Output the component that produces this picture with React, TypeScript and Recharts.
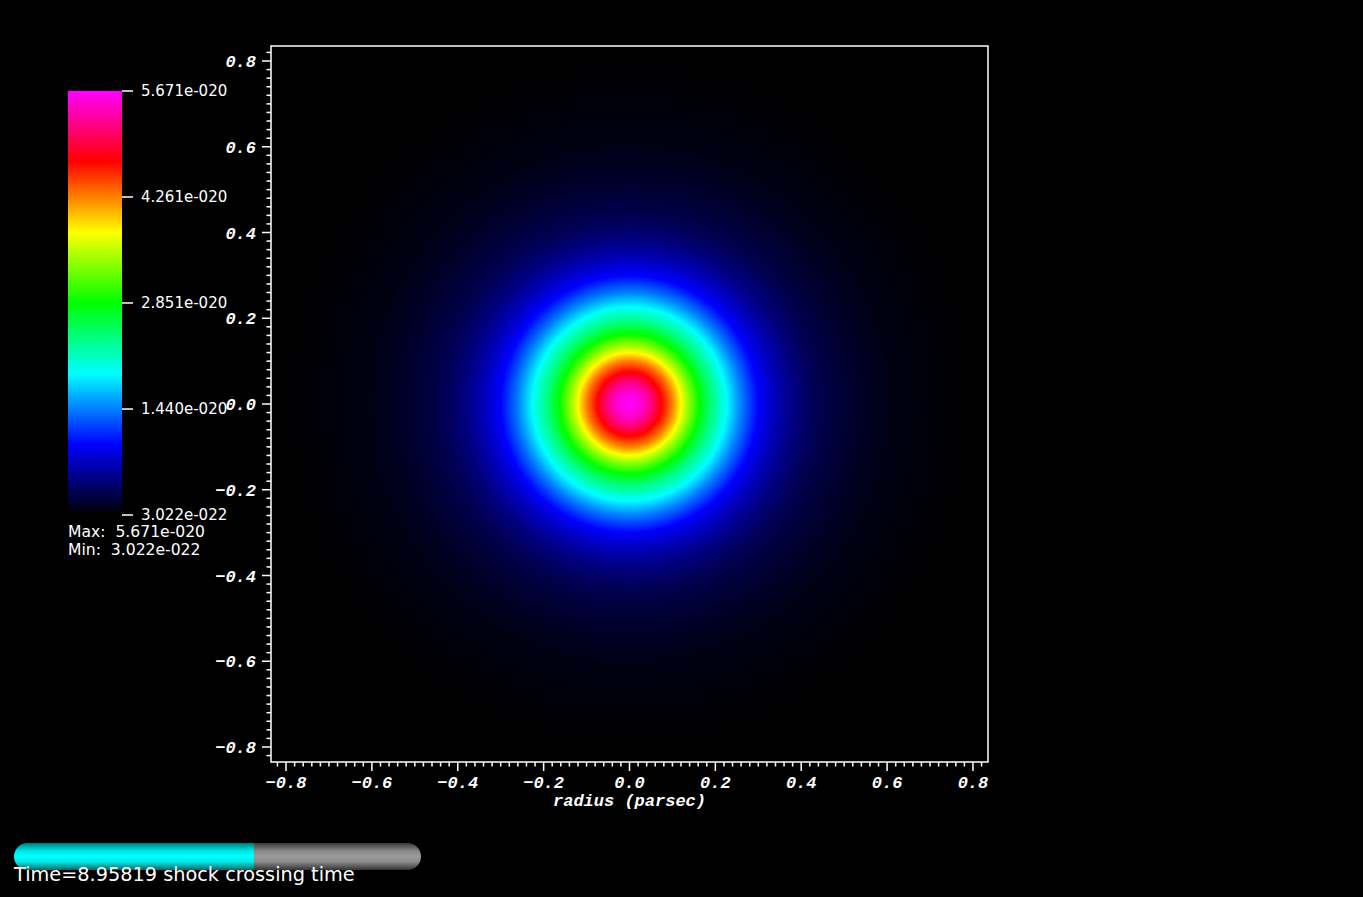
import React from 'react';
import { ScatterChart, Scatter, XAxis, YAxis, ReferenceArea, BarChart, Bar } from 'recharts';

// radial density profile of the cloud (radius in parsec, density in g/cm^3)
const RADIUS = [0, 0.03, 0.05, 0.075, 0.1, 0.12, 0.14, 0.163, 0.19, 0.226, 0.26, 0.3, 0.34, 0.38, 0.43, 0.49, 0.55, 0.61, 0.7, 0.8, 0.9];
const DENSITY = [
  5.671e-20, 5.5e-20, 5.22e-20, 4.73e-20, 4.26e-20, 3.79e-20, 3.33e-20, 2.85e-20, 2.4e-20, 1.91e-20, 1.44e-20,
  0.97e-20, 0.71e-20, 0.51e-20, 0.34e-20, 0.23e-20, 0.154e-20, 0.103e-20, 0.064e-20, 0.035e-20, 3.022e-22,
];

const D_MIN = 3.022e-22;
const D_MAX = 5.671e-20;
const COLORBAR_TICKS = [3.022e-22, 1.44e-20, 2.851e-20, 4.261e-20, 5.671e-20];
const AXIS_TICKS = [-0.8, -0.6, -0.4, -0.2, 0, 0.2, 0.4, 0.6, 0.8];
const DOMAIN: [number, number] = [-0.835, 0.835];

const TIME = '8.95819';
const TIME_UNITS = 'shock crossing time';
const TIME_PROGRESS = 0.59;

// black -> blue -> cyan -> green -> yellow -> red -> magenta
const CMAP = [
  [0, 0, 0],
  [0, 0, 255],
  [0, 255, 255],
  [0, 255, 0],
  [255, 255, 0],
  [255, 0, 0],
  [255, 0, 255],
];

function colorAt(t: number) {
  const c = Math.max(0, Math.min(1, t)) * (CMAP.length - 1);
  const i = Math.min(CMAP.length - 2, Math.floor(c));
  const f = c - i;
  const rgb = CMAP[i].map((v, k) => Math.round(v + (CMAP[i + 1][k] - v) * f));
  return `rgb(${rgb.join(',')})`;
}

const minorTicks: number[] = [];
for (let i = -41; i <= 41; i++) minorTicks.push(Math.round(i * 2) / 100);

const isMajor = (v: number) => AXIS_TICKS.some((t) => Math.abs(t - v) < 1e-6);
const fmtAxis = (v: number) => (Math.abs(v) < 1e-9 ? '0.0' : v.toFixed(1).replace('-', '\u2212'));
const fmtExp = (v: number) => {
  const [m, e] = v.toExponential(3).split('e');
  const sign = e[0] === '-' ? '-' : '+';
  return `${m}e${sign}${e.replace(/[-+]/, '').padStart(3, '0')}`;
};

const AXIS_FONT = {
  fontFamily: '"Liberation Mono", "DejaVu Sans Mono", monospace',
  fontWeight: 700,
  fontStyle: 'italic' as const,
  fontSize: 17,
};
const LABEL_FONT = '"DejaVu Sans", sans-serif';

const XTick = (props: any) => {
  const { x, y, payload } = props;
  const major = isMajor(payload.value);
  return (
    <g>
      <line x1={x} x2={x} y1={y} y2={y + (major ? 9 : 4.5)} stroke="#fff" strokeWidth={1.5} />
      {major && (
        <text x={x} y={y + 26} textAnchor="middle" fill="#fff" style={AXIS_FONT}>
          {fmtAxis(payload.value)}
        </text>
      )}
    </g>
  );
};

const YTick = (props: any) => {
  const { x, y, payload } = props;
  const major = isMajor(payload.value);
  return (
    <g>
      <line x1={x - (major ? 9 : 4.5)} x2={x} y1={y} y2={y} stroke="#fff" strokeWidth={1.5} />
      {major && (
        <text x={x - 15} y={y} dy="0.36em" textAnchor="end" fill="#fff" style={AXIS_FONT}>
          {fmtAxis(payload.value)}
        </text>
      )}
    </g>
  );
};

// density field drawn as a radial gradient from the profile
const Cloud = (props: any) => {
  const { x, y, width, height } = props;
  const w = Math.abs(width);
  const h = Math.abs(height);
  const rMax = RADIUS[RADIUS.length - 1];
  return (
    <g>
      <defs>
        <radialGradient id="cloud" cx="50%" cy="50%" r="50%">
          {RADIUS.map((r, i) => (
            <stop key={i} offset={r / rMax} stopColor={colorAt((DENSITY[i] - D_MIN) / (D_MAX - D_MIN))} />
          ))}
        </radialGradient>
      </defs>
      <rect x={Math.min(x, x + width)} y={Math.min(y, y + height)} width={w} height={h} fill="#000" />
      <ellipse
        cx={Math.min(x, x + width) + w / 2}
        cy={Math.min(y, y + height) + h / 2}
        rx={w / 2}
        ry={h / 2}
        fill="url(#cloud)"
      />
    </g>
  );
};

const ColorBarShape = (props: any) => {
  const { x, y, width, height } = props;
  return (
    <g>
      <defs>
        <linearGradient id="cbar" x1="0" y1="1" x2="0" y2="0">
          {CMAP.map((c, i) => (
            <stop key={i} offset={i / (CMAP.length - 1)} stopColor={`rgb(${c.join(',')})`} />
          ))}
        </linearGradient>
      </defs>
      <rect x={x} y={y} width={width} height={height} fill="url(#cbar)" />
    </g>
  );
};

const colorbarData = [{ name: 'density', range: [D_MIN, D_MAX] }];

export default function App() {
  const rMax = RADIUS[RADIUS.length - 1];
  return (
    <div style={{ position: 'absolute', left: 0, top: 0, width: 1363, height: 897, background: '#000', overflow: 'hidden' }}>
      <div style={{ position: 'absolute', left: 0, top: 0 }}>
        <ScatterChart width={1363} height={897} margin={{ top: 46, right: 375, bottom: 75, left: 211 }}>
          <XAxis
            type="number"
            dataKey="x"
            domain={DOMAIN}
            allowDataOverflow
            ticks={minorTicks}
            interval={0}
            tickSize={0}
            tickMargin={0}
            axisLine={false}
            tickLine={false}
            tick={<XTick />}
            height={60}
            label={(p: any) => {
              const vb = p.viewBox;
              return (
                <text x={vb.x + vb.width / 2} y={vb.y + 44} textAnchor="middle" fill="#fff" style={AXIS_FONT}>
                  radius (parsec)
                </text>
              );
            }}
          />
          <YAxis
            type="number"
            dataKey="y"
            domain={DOMAIN}
            allowDataOverflow
            ticks={minorTicks}
            interval={0}
            tickSize={0}
            tickMargin={0}
            axisLine={false}
            tickLine={false}
            tick={<YTick />}
            width={60}
          />
          <ReferenceArea x1={-rMax} x2={rMax} y1={-rMax} y2={rMax} ifOverflow="hidden" shape={<Cloud />} />
          <ReferenceArea
            x1={DOMAIN[0]}
            x2={DOMAIN[1]}
            y1={DOMAIN[0]}
            y2={DOMAIN[1]}
            ifOverflow="visible"
            fill="none"
            stroke="#fff"
            strokeWidth={1.5}
          />
          <Scatter data={[]} isAnimationActive={false} />
        </ScatterChart>
      </div>

      <div style={{ position: 'absolute', left: 68, top: 81 }}>
        <BarChart width={200} height={444} data={colorbarData} margin={{ top: 10, right: 0, bottom: 10, left: 0 }} barCategoryGap={0}>
          <XAxis dataKey="name" hide />
          <YAxis
            orientation="right"
            type="number"
            width={146}
            domain={[D_MIN, D_MAX]}
            allowDataOverflow
            ticks={COLORBAR_TICKS}
            interval={0}
            axisLine={false}
            tickSize={11}
            tickMargin={8}
            tickLine={{ stroke: '#fff', strokeWidth: 1.5 }}
            tick={{ fill: '#fff', fontSize: 15, fontFamily: LABEL_FONT }}
            tickFormatter={fmtExp}
          />
          <Bar dataKey="range" shape={<ColorBarShape />} isAnimationActive={false} />
        </BarChart>
      </div>

      <div
        style={{
          position: 'absolute',
          left: 68,
          top: 523,
          color: '#fff',
          fontFamily: LABEL_FONT,
          fontSize: 15.6,
          lineHeight: '18px',
          whiteSpace: 'pre',
        }}
      >
        <div>{`Max:  ${fmtExp(D_MAX)}`}</div>
        <div>{`Min:  ${fmtExp(D_MIN)}`}</div>
      </div>

      <div
        style={{
          position: 'absolute',
          left: 14,
          top: 843,
          width: 407,
          height: 27,
          borderRadius: 13.5,
          overflow: 'hidden',
          display: 'flex',
          boxShadow: 'inset 6px 0 6px -3px rgba(0,0,0,0.45), inset -6px 0 6px -3px rgba(0,0,0,0.45)',
        }}
      >
        <div
          style={{
            width: `${TIME_PROGRESS * 100}%`,
            height: '100%',
            background: 'linear-gradient(to bottom, #007a7a 0%, #00e8e8 30%, #00ffff 50%, #00e8e8 70%, #006a6a 100%)',
          }}
        />
        <div
          style={{
            flex: 1,
            height: '100%',
            background: 'linear-gradient(to bottom, #3a3a3a 0%, #8a8a8a 30%, #9a9a9a 50%, #8a8a8a 70%, #333 100%)',
          }}
        />
      </div>
      <div
        style={{
          position: 'absolute',
          left: 14,
          top: 863,
          color: '#fff',
          fontFamily: LABEL_FONT,
          fontSize: 19.3,
          lineHeight: '24px',
          whiteSpace: 'pre',
        }}
      >
        {`Time=${TIME} ${TIME_UNITS}`}
      </div>
    </div>
  );
}
